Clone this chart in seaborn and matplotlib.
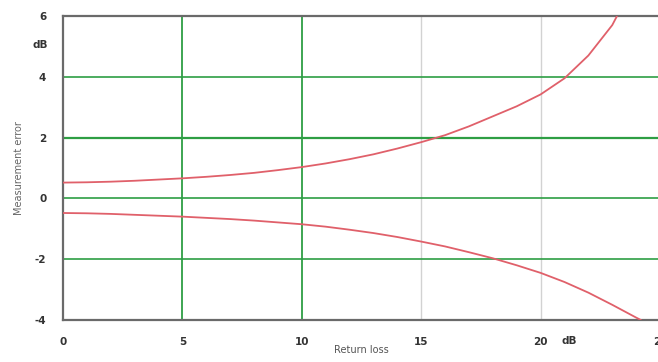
import numpy as np
import pandas as pd
import seaborn as sns
import matplotlib
matplotlib.use('Agg')
import matplotlib.pyplot as plt

# Values
upper_x = [0, 1, 2, 3, 4, 5, 6, 7, 8, 9, 10, 11, 12, 13, 14, 15, 16, 17, 18, 19, 20, 21, 22, 23, 23.2]
upper_y = [0.52, 0.53, 0.55, 0.58, 0.62, 0.66, 0.71, 0.77, 0.84, 0.93, 1.03, 1.15, 1.29, 1.45,
           1.64, 1.85, 2.08, 2.37, 2.70, 3.03, 3.42, 3.95, 4.7, 5.7, 6.0]
lower_x = [0, 1, 2, 3, 4, 5, 6, 7, 8, 9, 10, 11, 12, 13, 14, 15, 16, 17, 18, 19, 20, 21, 22, 23, 24, 24.2]
lower_y = [-0.48, -0.49, -0.51, -0.54, -0.57, -0.60, -0.64, -0.68, -0.73, -0.79, -0.85, -0.93,
           -1.03, -1.14, -1.27, -1.42, -1.58, -1.77, -1.97, -2.20, -2.45, -2.75, -3.10, -3.50,
           -3.92, -4.0]

x_ticks = [0, 5, 10, 15, 20, 25]
y_ticks = [-4, -2, 0, 2, 4, 6]
green_x = [5, 10]
gray_x = [15, 20]
green_y = [-2, 0, 2, 4]

df = pd.concat([
    pd.DataFrame({'rl': upper_x, 'err': upper_y, 'curve': 'upper'}),
    pd.DataFrame({'rl': lower_x, 'err': lower_y, 'curve': 'lower'}),
])

sns.set_style('white')
plt.rcParams['font.family'] = ['DejaVu Sans']

fig = plt.figure(figsize=(6.58, 3.62), dpi=100)
ax = fig.add_axes([63 / 658, 42 / 362, 597 / 658, 304 / 362])

green = '#2e9e44'
for v in green_x:
    ax.axvline(v, color=green, lw=1.3, zorder=1)
for v in gray_x:
    ax.axvline(v, color='#d2d2d2', lw=1.0, zorder=1)
for v in green_y:
    ax.axhline(v, color=green, lw=1.6 if v == 2 else 1.2, zorder=1)

sns.lineplot(data=df, x='rl', y='err', hue='curve', units='curve', estimator=None,
             palette={'upper': '#e0606a', 'lower': '#e0606a'}, lw=1.3,
             legend=False, sort=False, ax=ax, zorder=3)

ax.set_xlim(0, 25)
ax.set_ylim(-4, 6)
ax.set_xticks(x_ticks)
ax.set_yticks(y_ticks)
ax.set_xticklabels([str(t) for t in x_ticks], fontsize=7.5, fontweight='bold', color='#333333')
ax.set_yticklabels([str(t) for t in y_ticks], fontsize=7.5, fontweight='bold', color='#333333')
ax.tick_params(axis='x', length=0, pad=12)
ax.tick_params(axis='y', length=0, pad=12)

for side in ['left', 'top', 'bottom']:
    ax.spines[side].set_color('#6a6a6a')
    ax.spines[side].set_linewidth(1.6)
ax.spines['right'].set_visible(False)

ax.set_xlabel('Return loss', fontsize=7, color='#555555', labelpad=-1)
ax.set_ylabel('Measurement error', fontsize=7, color='#666666', labelpad=8)

ax.text(-0.038, 0.905, 'dB', transform=ax.transAxes, fontsize=7.5, fontweight='bold',
        color='#333333', ha='center', va='center')
ax.text(506 / 597, -0.07, 'dB', transform=ax.transAxes, fontsize=7.5, fontweight='bold',
        color='#333333', ha='center', va='center')

fig.savefig('out.png', dpi=100)
